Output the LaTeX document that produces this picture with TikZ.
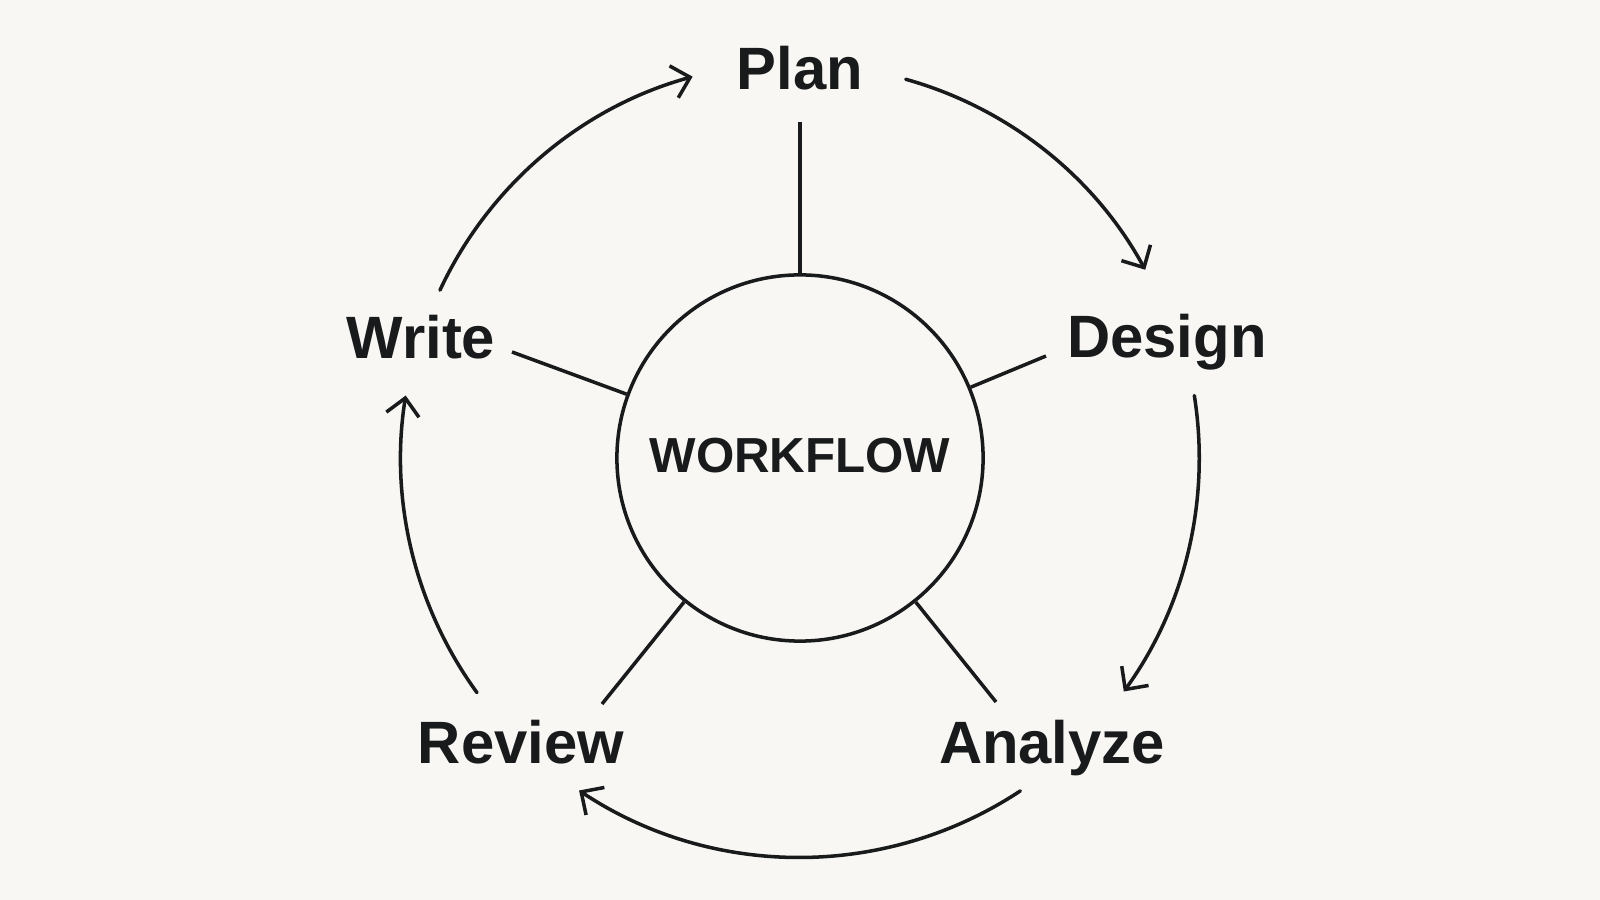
\documentclass[tikz,border=0pt]{standalone}
\usepackage{fontspec}
\setmainfont{Liberation Sans}
\usetikzlibrary{arrows.meta,calc}
\definecolor{bg}{RGB}{248,247,244}
\definecolor{ink}{RGB}{24,26,27}
\begin{document}
\begin{tikzpicture}[x=0.01cm,y=0.01cm,
  lbl/.style={anchor=base,inner sep=0pt,text=ink,font=\fontsize{17}{20}\selectfont\bfseries},
  hub/.style={circle,draw=ink,line width=1pt,minimum size=3.66cm,inner sep=0pt},
  spoke/.style={draw=ink,line width=1pt},
  flow/.style={draw=ink,line width=1pt,line cap=round,-{Straight Barb[length=4.8pt,width=9.4pt,line width=1pt]}}]
\fill[bg] (0,0) rectangle (1600,900);
\useasboundingbox (0,0) rectangle (1600,900);
\coordinate (C) at (800,442);
\node[hub] (wf) at (C) {};
\node[anchor=base,inner sep=0pt,text=ink,font=\fontsize{14}{16}\selectfont\bfseries] (wft) at (800,427) {WORKFLOW};
\node[lbl] (plan) at (800,810) {Plan};
\node[lbl] (design) at (1167,542) {Design};
\node[lbl] (write) at (421,541) {Write};
\node[lbl] (review) at (521,136) {Review};
\node[lbl] (analyze) at (1052,136) {Analyze};
% spoke ends
\coordinate (pS) at (800,778);
\coordinate (dS) at (1046,544);
\coordinate (wS) at (512,548);
\coordinate (rS) at (602,196);
\coordinate (aS) at (996,198);
\draw[spoke] (wf) -- (pS);
\draw[spoke] (wf) -- (dS);
\draw[spoke] (wf) -- (wS);
\draw[spoke] (wf) -- (rS);
\draw[spoke] (wf) -- (aS);
% flow arcs
\path (C) ++(74.4:3.93cm) coordinate (f1);
\path (C) ++(9:3.99cm) coordinate (f2);
\path (C) ++(-56.5:3.99cm) coordinate (f3);
\path (C) ++(216:3.99cm) coordinate (f4);
\path (C) ++(155:3.97cm) coordinate (f5);
\draw[flow] (f1) arc[start angle=74.4,end angle=28.6,radius=3.93cm];
\draw[flow] (f2) arc[start angle=9,end angle=-35.8,radius=3.99cm];
\draw[flow] (f3) arc[start angle=-56.5,end angle=-123.6,radius=3.99cm];
\draw[flow] (f4) arc[start angle=216,end angle=171,radius=3.99cm];
\draw[flow] (f5) arc[start angle=155,end angle=105.4,radius=3.94cm];
\end{tikzpicture}
\end{document}
